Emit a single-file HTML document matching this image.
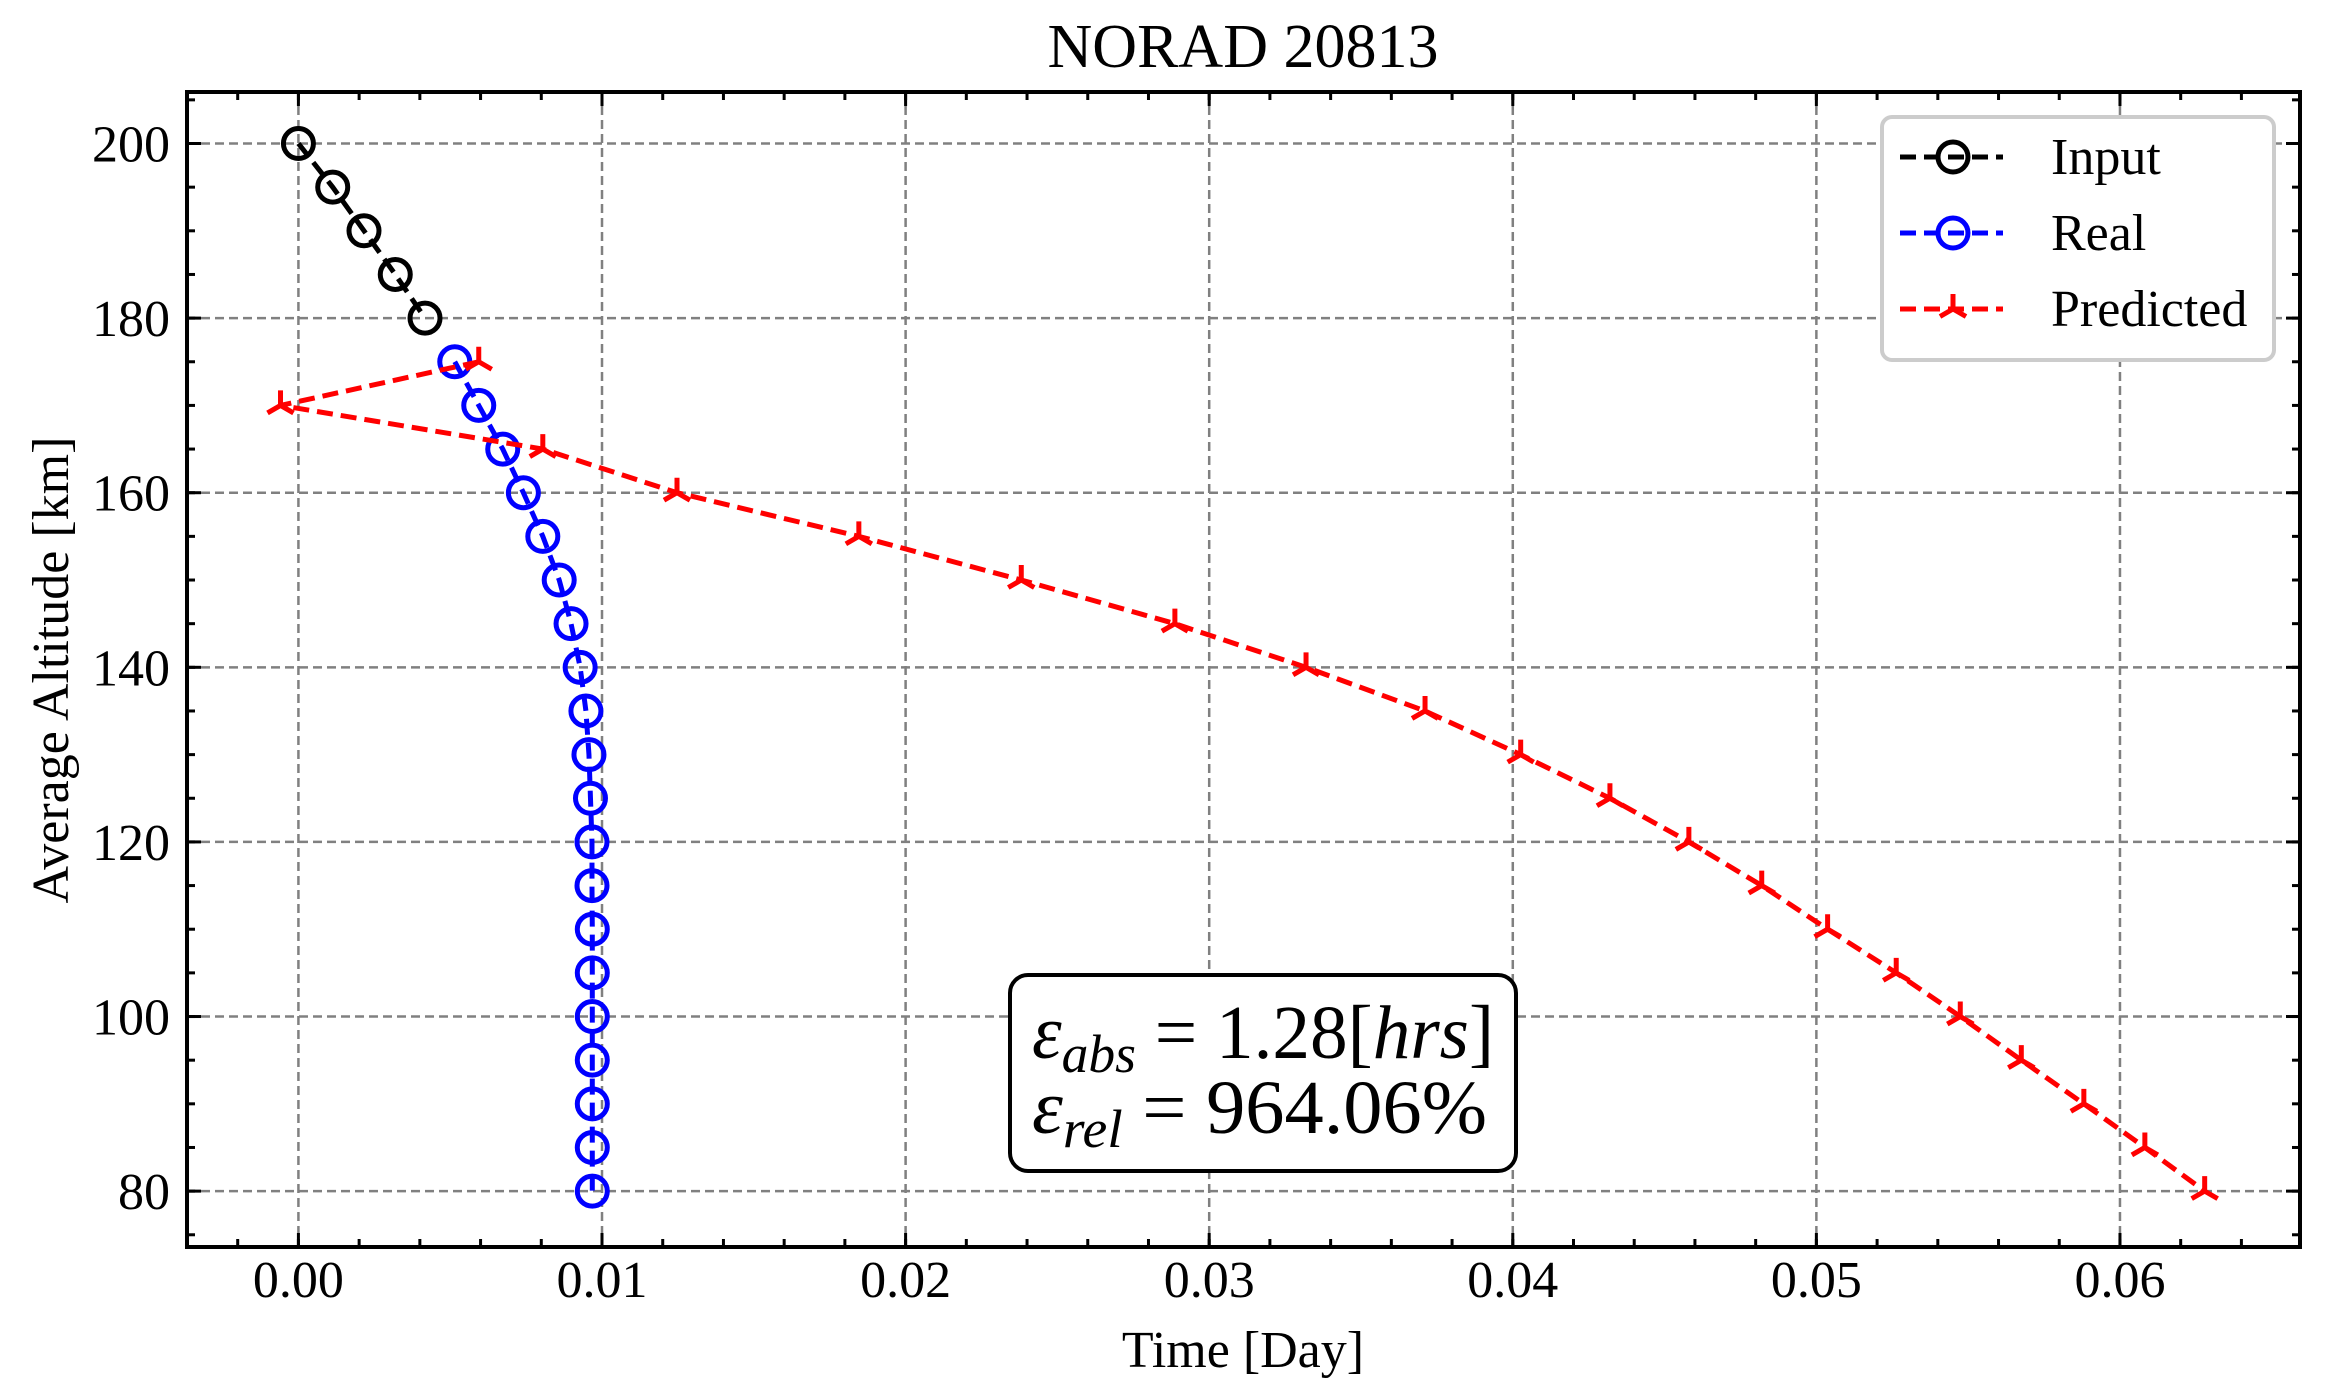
<!DOCTYPE html>
<html><head><meta charset="utf-8"><style>
html,body{margin:0;padding:0;background:#fff;}
svg{display:block;font-family:"Liberation Serif",serif;}
</style></head><body>
<svg id="chart" width="2326" height="1384" viewBox="0 0 2326 1384" xmlns="http://www.w3.org/2000/svg">
<rect width="2326" height="1384" fill="#fff"/>
<text x="1243" y="67" font-size="62" text-anchor="middle">NORAD 20813</text>
<g id="grid"></g>
<g id="series"></g>
<g id="axes"></g>
<text x="1243" y="1367" font-size="52" text-anchor="middle">Time [Day]</text>
<text transform="translate(68,670) rotate(-90)" font-size="52" text-anchor="middle">Average Altitude [km]</text>
<g>
<rect x="1010" y="975" width="506" height="196" rx="18" fill="#fff" stroke="#000" stroke-width="4"/>
<text x="1032" y="1058" font-size="76" textLength="462" lengthAdjust="spacingAndGlyphs"><tspan font-style="italic">ε</tspan><tspan font-style="italic" font-size="54" dy="14">abs</tspan><tspan dy="-14"> = 1.28[</tspan><tspan font-style="italic">hrs</tspan><tspan>]</tspan></text>
<text x="1032" y="1133" font-size="76" textLength="455" lengthAdjust="spacingAndGlyphs"><tspan font-style="italic">ε</tspan><tspan font-style="italic" font-size="54" dy="14">rel</tspan><tspan dy="-14">  = 964.06%</tspan></text>
</g>
<g>
<rect x="1882" y="117" width="392" height="243" rx="10" fill="#fff" stroke="#ccc" stroke-width="4"/>
<g id="legend-items"></g>
</g>
</svg>
<script>
const inputX=[0,0.00113,0.00216,0.00319,0.00417];
const inputY=[200,195,190,185,180];
const realX=[0.00515,0.00594,0.00673,0.00741,0.00805,0.00859,0.00898,0.00928,0.00947,0.00957,0.00962,0.00967,0.00967,0.00968,0.00968,0.00968,0.00968,0.00968,0.00968,0.00968];
const realY=[175,170,165,160,155,150,145,140,135,130,125,120,115,110,105,100,95,90,85,80];
const predX=[0.00594,-0.00059,0.00805,0.01247,0.01846,0.02381,0.02887,0.03319,0.03711,0.04026,0.0432,0.0458,0.0482,0.05037,0.05263,0.05474,0.05675,0.05881,0.06082,0.06279];
const predY=[175,170,165,160,155,150,145,140,135,130,125,120,115,110,105,100,95,90,85,80];
const xTicks=[0,0.01,0.02,0.03,0.04,0.05,0.06];
const xTickLabels=["0.00","0.01","0.02","0.03","0.04","0.05","0.06"];
const yTicks=[80,100,120,140,160,180,200];
const yTickLabels=["80","100","120","140","160","180","200"];

const L=187,R=2300,T=92,B=1247;
const xmin=-0.00367,xmax=0.06593,ymin=73.6,ymax=205.9;
const sx=v=>L+(v-xmin)/(xmax-xmin)*(R-L);
const sy=v=>B-(v-ymin)/(ymax-ymin)*(B-T);
const NS="http://www.w3.org/2000/svg";
function mk(tag,attrs,parent){const e=document.createElementNS(NS,tag);for(const k in attrs)e.setAttribute(k,attrs[k]);parent.appendChild(e);return e;}
const grid=document.getElementById('grid'),axes=document.getElementById('axes'),series=document.getElementById('series');

xTicks.forEach((v,i)=>{
  const g=mk('line',{x1:sx(v),x2:sx(v),y1:T,y2:B,stroke:'#808080','stroke-width':2.5,'stroke-dasharray':'9,5'},grid);
  
  
  const t=mk('text',{x:sx(v),y:1297,'font-size':52,'text-anchor':'middle'},axes);
  t.textContent=xTickLabels[i];
  
  
  [[B,B-14],[T,T+14]].forEach(p=>mk('line',{x1:sx(v),x2:sx(v),y1:p[0],y2:p[1],stroke:'#000','stroke-width':3},axes));
});
for(let v=-0.002;v<=0.0659;v+=0.002){
  if(v<xmin)continue;
  [[B,B-8],[T,T+8]].forEach(p=>mk('line',{x1:sx(v),x2:sx(v),y1:p[0],y2:p[1],stroke:'#000','stroke-width':3},axes));
}
yTicks.forEach((v,i)=>{
  const g=mk('line',{x1:L,x2:R,y1:sy(v),y2:sy(v),stroke:'#808080','stroke-width':2.5,'stroke-dasharray':'9,5'},grid);
  
  
  const t=mk('text',{x:170,y:sy(v)+18,'font-size':52,'text-anchor':'end'},axes);
  t.textContent=yTickLabels[i];
  
  
  [[L,L+14],[R,R-14]].forEach(p=>mk('line',{x1:p[0],x2:p[1],y1:sy(v),y2:sy(v),stroke:'#000','stroke-width':3},axes));
});
for(let v=75;v<=205;v+=5){
  [[L,L+8],[R,R-8]].forEach(p=>mk('line',{x1:p[0],x2:p[1],y1:sy(v),y2:sy(v),stroke:'#000','stroke-width':3},axes));
}
const frame=mk('rect',{x:L,y:T,width:R-L,height:B-T,fill:'none',stroke:'#000','stroke-width':4},axes);



function circle(x,y,c,parent){return mk('circle',{cx:x,cy:y,r:15,fill:'none',stroke:c,'stroke-width':5},parent);}
function tri(x,y,c,parent){const r=15;const g=mk('path',{d:`M${x},${y}L${x},${y-r}M${x},${y}L${x-r*0.866},${y+r*0.5}M${x},${y}L${x+r*0.866},${y+r*0.5}`,stroke:c,'stroke-width':5,fill:'none'},parent);return g;}

function drawSeries(xs,ys,c,marker,name){
  const g=mk('g',{},series);
  
  
  const pts=xs.map((v,i)=>sx(v)+','+sy(ys[i])).join(' ');
  mk('polyline',{points:pts,fill:'none',stroke:c,'stroke-width':5,'stroke-dasharray':'16,8'},g);
  xs.forEach((v,i)=>{const m=marker(sx(v),sy(ys[i]),c,g);
    
    });
}
drawSeries(inputX,inputY,'#000',circle,'input-series');
drawSeries(realX,realY,'#0000ff',circle,'real-series');
drawSeries(predX,predY,'#ff0000',tri,'predicted-series');

const li=document.getElementById('legend-items');
[['Input','#000',circle,157],['Real','#0000ff',circle,233],['Predicted','#ff0000',tri,309]].forEach(e=>{
  const g=mk('g',{},li);
  
  
  mk('line',{x1:1900,x2:2003,y1:e[3],y2:e[3],stroke:e[1],'stroke-width':5,'stroke-dasharray':'16,8'},g);
  e[2](1953,e[3],e[1],g);
  const t=mk('text',{x:2051,y:e[3]+17,'font-size':52},g);
  t.textContent=e[0];
});
</script>
</body></html>
